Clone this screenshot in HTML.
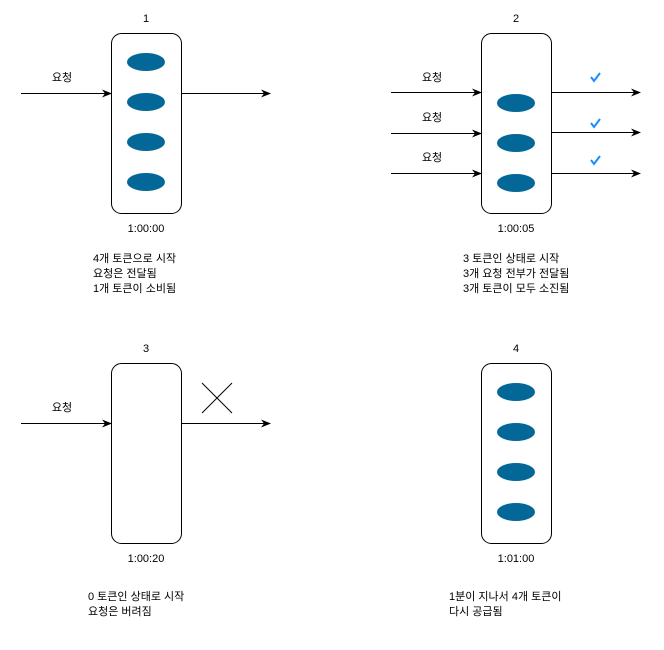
<!DOCTYPE html>
<html><head><meta charset="utf-8"><style>
body{margin:0;background:#fff}
text{font-family:"Liberation Sans","Noto Sans CJK KR",sans-serif;font-size:11px;fill:#000}
</style></head><body>
<svg width="664" height="645" viewBox="0 0 664 645" xmlns="http://www.w3.org/2000/svg">
<defs><marker id="a" markerWidth="10" markerHeight="8" refX="9" refY="4" orient="auto" markerUnits="userSpaceOnUse"><path d="M0,0 L10,4 L0,8 L3,4 Z" fill="#000"/></marker></defs>
<g fill="#fff" stroke="#000" stroke-width="1">
<rect x="111.5" y="33.5" width="70" height="180" rx="10"/>
<rect x="481.5" y="33.5" width="70" height="180" rx="10"/>
<rect x="111.5" y="363.5" width="70" height="180" rx="10"/>
<rect x="481.5" y="363.5" width="70" height="180" rx="10"/>
</g>
<g fill="#036897">
<ellipse cx="146" cy="62" rx="19" ry="9"/><ellipse cx="146" cy="102" rx="19" ry="9"/><ellipse cx="146" cy="142" rx="19" ry="9"/><ellipse cx="146" cy="182" rx="19" ry="9"/>
<ellipse cx="516" cy="103" rx="19" ry="9"/><ellipse cx="516" cy="143" rx="19" ry="9"/><ellipse cx="516" cy="183" rx="19" ry="9"/>
<ellipse cx="516" cy="392" rx="19" ry="9"/><ellipse cx="516" cy="432" rx="19" ry="9"/><ellipse cx="516" cy="472" rx="19" ry="9"/><ellipse cx="516" cy="512" rx="19" ry="9"/>
</g>
<g stroke="#000" stroke-width="1" marker-end="url(#a)">
<line x1="21" y1="93.5" x2="111" y2="93.5"/><line x1="181" y1="93.5" x2="270" y2="93.5"/>
<line x1="391" y1="92.5" x2="481" y2="92.5"/><line x1="391" y1="133.5" x2="481" y2="133.5"/><line x1="391" y1="173.5" x2="481" y2="173.5"/>
<line x1="551" y1="92.5" x2="640" y2="92.5"/><line x1="551" y1="132.5" x2="640" y2="132.5"/><line x1="551" y1="173.5" x2="640" y2="173.5"/>
<line x1="21" y1="423.5" x2="111" y2="423.5"/><line x1="181" y1="423.5" x2="270" y2="423.5"/>
</g>
<g stroke="#000"><line x1="202" y1="383" x2="232" y2="413"/><line x1="232" y1="383" x2="202" y2="413"/></g>
<g fill="none" stroke="#1a8cff" stroke-width="2"><path d="M591,77 l3,4 l6,-8"/><path d="M591,123 l3,4 l6,-8"/><path d="M591,160 l3,4 l6,-8"/></g>
<g text-anchor="middle">
<text x="146" y="22">1</text><text x="516" y="22">2</text><text x="146" y="352">3</text><text x="516" y="352">4</text>
<text x="146" y="232">1:00:00</text><text x="516" y="232">1:00:05</text><text x="146" y="562">1:00:20</text><text x="516" y="562">1:01:00</text>
<text x="62" y="81">요청</text><text x="432" y="81">요청</text><text x="432" y="121">요청</text><text x="432" y="161">요청</text><text x="62" y="411">요청</text>
</g>
<text x="93" y="262">4개 토큰으로 시작</text><text x="93" y="277">요청은 전달됨</text><text x="93" y="292">1개 토큰이 소비됨</text>
<text x="463" y="262">3 토큰인 상태로 시작</text><text x="463" y="277">3개 요청 전부가 전달됨</text><text x="463" y="292">3개 토큰이 모두 소진됨</text>
<text x="88" y="600">0 토큰인 상태로 시작</text><text x="88" y="615">요청은 버려짐</text>
<text x="449" y="600">1분이 지나서 4개 토큰이</text><text x="449" y="615">다시 공급됨</text>
</svg>
</body></html>
